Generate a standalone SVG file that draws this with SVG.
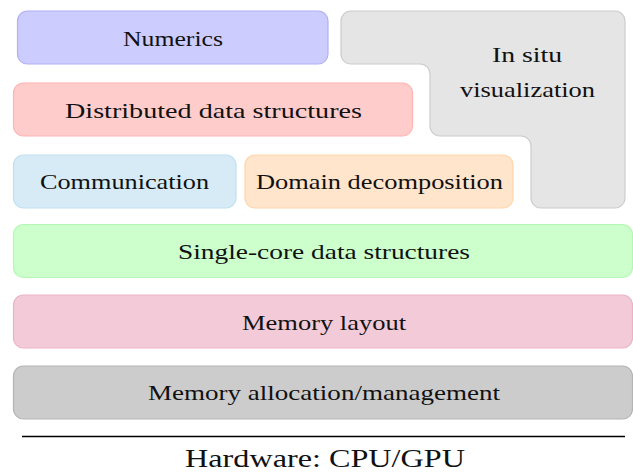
<svg xmlns="http://www.w3.org/2000/svg" width="633" height="472" viewBox="0 0 633 472">
<style>
.box{stroke-width:1.2}
.lbl{font-family:'Liberation Serif',serif;font-size:21.5px;fill:#111;text-anchor:middle}
.hw{font-family:'Liberation Serif',serif;font-size:26px;fill:#111;text-anchor:middle}
</style>
<rect width="633" height="472" fill="#fff"/>
<g id="numerics"><rect class="box" x="17.5" y="11" width="310.5" height="53" rx="10" fill="#ccccff" stroke="#b0b0f5"/><text class="lbl" x="173" y="46" textLength="100" lengthAdjust="spacingAndGlyphs">Numerics</text></g>
<g id="insitu"><path class="box" d="M351,11 H615 A10,10 0 0 1 625,21 V198 A10,10 0 0 1 615,208 H541 A10,10 0 0 1 531,198 V146 A10,10 0 0 0 521,136 H440 A10,10 0 0 1 430,126 V74 A10,10 0 0 0 420,64 H351 A10,10 0 0 1 341,54 V21 A10,10 0 0 1 351,11 Z" fill="#e5e5e5" stroke="#cccccc"/><text class="lbl" x="527" y="62" textLength="70" lengthAdjust="spacingAndGlyphs">In situ</text><text class="lbl" x="527.5" y="97" textLength="135" lengthAdjust="spacingAndGlyphs">visualization</text></g>
<g id="distributed"><rect class="box" x="13.5" y="83" width="399" height="53" rx="10" fill="#ffcccc" stroke="#ffb4b4"/><text class="lbl" x="213.5" y="117.5" textLength="297" lengthAdjust="spacingAndGlyphs">Distributed data structures</text></g>
<g id="communication"><rect class="box" x="13.5" y="155" width="222.5" height="53" rx="10" fill="#d7ebf7" stroke="#bfe0f2"/><text class="lbl" x="124.5" y="189" textLength="169" lengthAdjust="spacingAndGlyphs">Communication</text></g>
<g id="domain"><rect class="box" x="245" y="155" width="268" height="53" rx="10" fill="#ffe5cc" stroke="#ffd5ab"/><text class="lbl" x="379.5" y="189" textLength="247" lengthAdjust="spacingAndGlyphs">Domain decomposition</text></g>
<g id="singlecore"><rect class="box" x="13.5" y="224.5" width="619" height="53" rx="10" fill="#ccffcc" stroke="#b4f7b4"/><text class="lbl" x="324" y="259" textLength="292" lengthAdjust="spacingAndGlyphs">Single-core data structures</text></g>
<g id="memlayout"><rect class="box" x="13.5" y="295" width="619" height="53" rx="10" fill="#f2cad8" stroke="#ebb2c6"/><text class="lbl" x="324" y="329.5" textLength="164" lengthAdjust="spacingAndGlyphs">Memory layout</text></g>
<g id="memalloc"><rect class="box" x="13.5" y="366" width="619" height="53" rx="10" fill="#cccccc" stroke="#b4b4b4"/><text class="lbl" x="324" y="400" textLength="352" lengthAdjust="spacingAndGlyphs">Memory allocation/management</text></g>
<g id="connectors"><line x1="22" y1="436.5" x2="625" y2="436.5" stroke="#000" stroke-width="1.3"/></g>
<g id="hardware"><text class="hw" x="325" y="467" textLength="280" lengthAdjust="spacingAndGlyphs">Hardware: CPU/GPU</text></g>
</svg>
